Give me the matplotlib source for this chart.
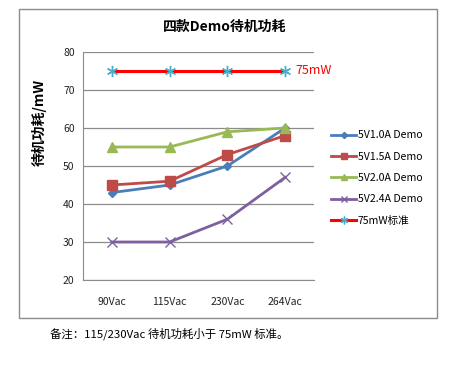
import matplotlib

matplotlib.use("Agg")
import matplotlib.pyplot as plt
from matplotlib.patches import Rectangle

plt.rcParams["font.family"] = ["Noto Sans CJK SC", "DejaVu Sans"]

# data
voltages = ["90Vac", "115Vac", "230Vac", "264Vac"]
demo_1a0 = [43, 45, 50, 60]
demo_1a5 = [45, 46, 53, 58]
demo_2a0 = [55, 55, 59, 60]
demo_2a4 = [30, 30, 36, 47]
limit_75 = [75, 75, 75, 75]
y_ticks = [20, 30, 40, 50, 60, 70, 80]

W, H = 450, 366
fig = plt.figure(figsize=(W / 100, H / 100), dpi=100, facecolor="white")

# outer chart frame
fig.patches.append(Rectangle((19 / W, 1 - 318 / H), (437 - 19) / W, (318 - 9) / H,
                             transform=fig.transFigure, fill=False,
                             edgecolor="#8c8c8c", lw=1.0))

ax = fig.add_axes([83 / W, 1 - 280 / H, 231 / W, 228 / H])
xs = list(range(len(voltages)))

series = [
    (demo_1a0, "5V1.0A Demo", "#4A7EBB", "D", 4.5, dict()),
    (demo_1a5, "5V1.5A Demo", "#BE4B48", "s", 6.5, dict()),
    (demo_2a0, "5V2.0A Demo", "#98B954", "^", 7, dict()),
    (demo_2a4, "5V2.4A Demo", "#7D60A0", "x", 7, dict(markeredgewidth=1.0)),
]
for ys, lab, col, mk, ms, kw in series:
    ax.plot(xs, ys, color=col, lw=2, marker=mk, ms=ms, label=lab, **kw)
ax.plot(xs, limit_75, color="#FF0000", lw=2.2, marker=(6, 2, 0), ms=8,
        markeredgecolor="#4BACC6", markeredgewidth=1.0, label="75mW标准")

ax.text(xs[-1] + 0.18, limit_75[-1], "75mW", color="#FF0000", fontsize=9,
        va="center", ha="left")

ax.set_xlim(-0.5, len(voltages) - 0.5)
ax.set_ylim(20, 80)
ax.set_yticks(y_ticks)
ax.set_xticks(xs)
ax.set_xticklabels(voltages)
ax.tick_params(length=0, labelsize=7.5, colors="#222222", pad=6)
ax.tick_params(axis="x", pad=12)
ax.yaxis.grid(True, color="#8c8c8c", lw=0.9)
ax.set_axisbelow(True)
for s in ["top", "right"]:
    ax.spines[s].set_visible(False)
for s in ["left", "bottom"]:
    ax.spines[s].set_color("#8c8c8c")

fig.text(225 / W, 1 - 27 / H, "四款Demo待机功耗", ha="center", va="center",
         fontsize=10, fontweight="bold")
fig.text(39 / W, 1 - 122 / H, "待机功耗/mW", ha="center", va="center",
         rotation=90, fontsize=10, fontweight="bold")

fig.legend(loc="center left", bbox_to_anchor=(331 / W, 1 - 178 / H),
           frameon=False, fontsize=7.6, handlelength=2.4, handletextpad=0.15,
           labelspacing=1.08, borderaxespad=0, borderpad=0, markerscale=0.7)

fig.text(50 / W, 1 - 334 / H, "备注：115/230Vac 待机功耗小于 75mW 标准。",
         ha="left", va="center", fontsize=8.2)

fig.savefig("out.png", dpi=100, facecolor="white")
